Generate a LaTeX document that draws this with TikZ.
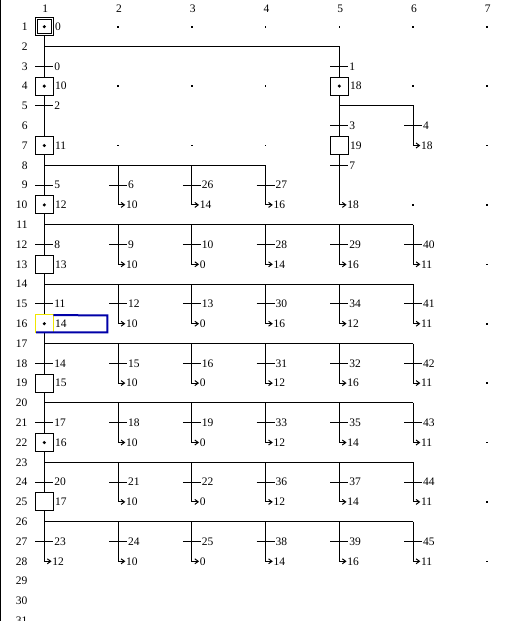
\documentclass[tikz,border=0pt]{standalone}
\usepackage{fontspec}
\setmainfont{Liberation Serif}
\definecolor{selblue}{RGB}{0,0,168}
\definecolor{selyellow}{RGB}{240,230,0}
\newcommand\Trans[3]{%
  \draw ([xshift=-9pt]g-#1-#2) -- ([xshift=9pt]g-#1-#2)
    node[lbl,anchor=west,xshift=0.6pt] (t-#1-#2) {#3};}
\newcommand\JumpTip[3]{%
  \draw ([shift={(3,-2.5)}]g-#1-#2) -- ++(3.4,2.5) -- ++(-3.4,2.5);
  \node[lbl,anchor=west] (j-#1-#2) at ([xshift=7.6pt]g-#1-#2) {#3};}
\newcommand\Step[3]{%
  \node[stepbox] (s-#1-#2) at (g-#1-#2) {};
  \node[lbl,anchor=west] (sl-#1-#2) at ([xshift=10.2pt]g-#1-#2) {#3};}
\newcommand\Active[2]{\fill (g-#1-#2) circle (1.7);}
\newcommand\Branch[4]{%
  \pgfmathtruncatemacro\ra{#2+1}\pgfmathtruncatemacro\rb{#2+2}%
  \draw (g-#1-#2) -- (g-#1-\rb) -- ++(6,0);
  \JumpTip{#1}{\rb}{#4}
  \Trans{#1}{\ra}{#3}}
\begin{document}
\begin{tikzpicture}[x=1pt,y=-1pt,line width=1pt,
  lbl/.style={inner sep=0pt,font=\fontsize{11.5}{11.5}\selectfont},
  stepbox/.style={draw=black,fill=white,minimum size=18pt,inner sep=0pt},
  initbox/.style={draw=black,minimum size=13.8pt,inner sep=0pt},
  gdot/.style={fill=black,minimum size=1.6pt,inner sep=0pt}]
\useasboundingbox (0,0) rectangle (510,621);
\fill[white] (0,0) rectangle (510,621);
\draw (0.5,0) -- (0.5,621);
% grid
\foreach \c in {1,...,7}{\foreach \r in {1,...,31}{%
  \pgfmathsetmacro\xx{44.3+73.75*(\c-1)}%
  \pgfmathsetmacro\yy{26.7+19.8*(\r-1)}%
  \coordinate (g-\c-\r) at (\xx,\yy);}}
% headers
\foreach \c in {1,...,7}{%
  \pgfmathsetmacro\xx{45.3+73.75*(\c-1)}%
  \node[lbl] (h-\c) at (\xx,8.5) {\c};}
\foreach \r in {1,...,31}{%
  \node[lbl,anchor=east] (r-\r) at (28,{26.7+19.8*(\r-1)}) {\r};}
% grid dots
\foreach \c/\r in {2/1,3/1,4/1,5/1,6/1,7/1,2/4,3/4,4/4,6/4,7/4,2/7,3/7,4/7,7/7,
  6/10,7/10,7/13,7/16,7/19,7/22,7/25,7/28}{\node[gdot] (d-\c-\r) at (g-\c-\r) {};}
% main lines
\draw (g-1-1) -- (g-1-28) -- ++(6,0);
\draw (g-1-2) -- (g-5-2) -- (g-5-10) -- ++(6,0);
\draw (g-5-5) -- (g-6-5) -- (g-6-7) -- ++(6,0);
\draw (g-1-8) -- (g-4-8);
\foreach \h in {11,14,17,20,23,26}{\draw (g-1-\h) -- (g-6-\h);}
% column 1
\JumpTip{1}{28}{12}
\Trans{1}{3}{0}\Trans{1}{5}{2}\Trans{1}{9}{5}\Trans{1}{12}{8}\Trans{1}{15}{11}
\Trans{1}{18}{14}\Trans{1}{21}{17}\Trans{1}{24}{20}\Trans{1}{27}{23}
% column 5 and 6
\Trans{5}{3}{1}\Trans{5}{6}{3}\Trans{5}{8}{7}\JumpTip{5}{10}{18}
\Trans{6}{6}{4}\JumpTip{6}{7}{18}
% branches
\foreach \c/\t/\j in {2/6/10,3/26/14,4/27/16}{\Branch{\c}{8}{\t}{\j}}
\foreach \c/\t/\j in {2/9/10,3/10/0,4/28/14,5/29/16,6/40/11}{\Branch{\c}{11}{\t}{\j}}
\foreach \c/\t/\j in {2/12/10,3/13/0,4/30/16,5/34/12,6/41/11}{\Branch{\c}{14}{\t}{\j}}
\foreach \c/\t/\j in {2/15/10,3/16/0,4/31/12,5/32/16,6/42/11}{\Branch{\c}{17}{\t}{\j}}
\foreach \c/\t/\j in {2/18/10,3/19/0,4/33/12,5/35/14,6/43/11}{\Branch{\c}{20}{\t}{\j}}
\foreach \c/\t/\j in {2/21/10,3/22/0,4/36/12,5/37/14,6/44/11}{\Branch{\c}{23}{\t}{\j}}
\foreach \c/\t/\j in {2/24/10,3/25/0,4/38/14,5/39/16,6/45/11}{\Branch{\c}{26}{\t}{\j}}
% steps
\Step{1}{1}{0}\node[initbox] (si-1-1) at (g-1-1) {};\Active{1}{1}
\Step{1}{4}{10}\Active{1}{4}
\Step{1}{7}{11}\Active{1}{7}
\Step{1}{10}{12}\Active{1}{10}
\Step{1}{13}{13}
\node[stepbox,draw=selyellow] (s-1-16) at (g-1-16) {};
\node[lbl,anchor=west] (sl-1-16) at ([xshift=10.2pt]g-1-16) {14};
\Active{1}{16}
\Step{1}{19}{15}
\Step{1}{22}{16}\Active{1}{22}
\Step{1}{25}{17}
\Step{5}{4}{18}\Active{5}{4}
\Step{5}{7}{19}
% selection frame
\draw[selblue,line width=2pt,line join=miter]
  ([xshift=-0.5pt]s-1-16.north east) ++(0,1) -- (107.3,315.3) -- (107.3,332.3)
  -- (36.0,332.3);
\end{tikzpicture}
\end{document}
